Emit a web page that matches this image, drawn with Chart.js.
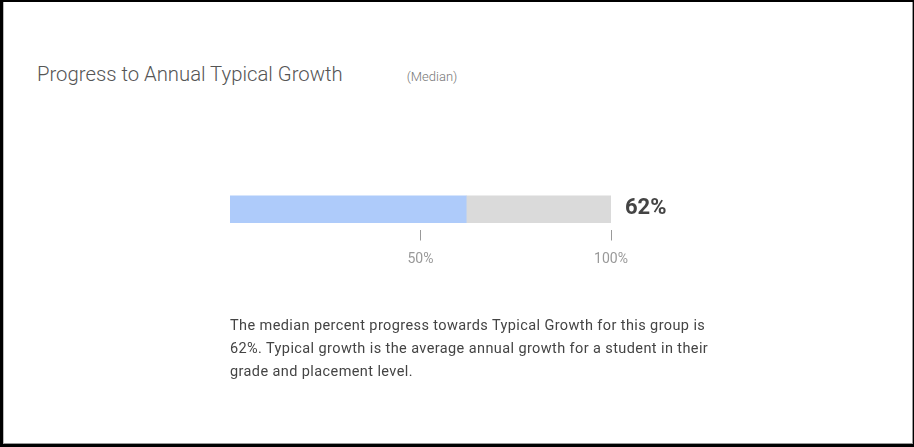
<!DOCTYPE html>
<html>
<head>
<meta charset="utf-8">
<script src="https://cdn.jsdelivr.net/npm/chart.js@4.4.0/dist/chart.umd.min.js"></script>
<style>
    html, body { margin: 0; padding: 0; background: #fff; }
    #marco {
        position: absolute; left: 0; top: 0; width: 914px; height: 447px;
        box-sizing: border-box;
        border-style: solid; border-color: #000;
        border-width: 2px 1px 3px 3px;
    }
    #interior {
        position: absolute; left: 0; top: 0; right: 0; bottom: 0;
        border-left: 1px solid #bbb; border-right: 1px solid #999; border-bottom: 1px solid #999;
    }
    #titulo {
        position: absolute; left: 37px; top: 62px;
        font-family: Roboto, sans-serif; font-size: 20.3px; font-weight: 300; color: #555;
        white-space: nowrap;
    }
    #titulo small { font-size: 13px; color: #777; margin-left: 64px; }
    #texto {
        position: absolute; left: 230px; top: 314px; width: 496px;
        font-family: Roboto, sans-serif; font-size: 14.5px; line-height: 23px; color: #444;
        letter-spacing: 0.4px;
    }
    #lienzo { position: absolute; left: 0; top: 0; }
</style>
</head>
<body>
<div id="marco"><div id="interior"></div></div>
<div id="titulo">Progress to Annual Typical Growth<small>(Median)</small></div>
<canvas id="lienzo" width="914" height="447"></canvas>
<div id="texto"></div>
<script>
// datos del grafico
const categorias = ['Median'];
const progreso = [62];
const restante = [38];
const marcasEje = [50, 100];
const textoResumen = 'The median percent progress towards Typical Growth for this group is 62%. Typical growth is the average annual growth for a student in their grade and placement level.';

document.getElementById('texto').textContent = textoResumen;

// escribe el porcentaje a la derecha de la barra
const etiquetaValor = {
    id: 'etiquetaValor',
    afterDatasetsDraw(chart) {
        const ctx = chart.ctx;
        const escalaX = chart.scales.x;
        const barra = chart.getDatasetMeta(0).data[0];
        ctx.save();
        ctx.font = 'bold 22px Roboto, sans-serif';
        ctx.fillStyle = '#444';
        ctx.textAlign = 'left';
        ctx.textBaseline = 'middle';
        ctx.fillText(progreso[0] + '%', escalaX.getPixelForValue(100) + 14, barra.y - 1);
        ctx.restore();
    }
};

const ctx = document.getElementById('lienzo').getContext('2d');

const miGrafico = new Chart(ctx, {
    type: 'bar',
    data: {
        labels: categorias,
        datasets: [{
            data: progreso,
            backgroundColor: '#aecbfa',
            barThickness: 27
        }, {
            data: restante,
            backgroundColor: '#dadada',
            barThickness: 27
        }]
    },
    options: {
        indexAxis: 'y',
        responsive: false,
        animation: false,
        layout: {
            padding: { left: 230, right: 303, top: 189, bottom: 177 }
        },
        plugins: {
            legend: { display: false },
            tooltip: { enabled: false }
        },
        scales: {
            x: {
                stacked: true,
                min: 0,
                max: 100,
                afterBuildTicks: function(eje) {
                    eje.ticks = marcasEje.map(v => ({ value: v }));
                },
                border: { display: false },
                grid: {
                    drawOnChartArea: false,
                    drawTicks: true,
                    tickLength: 11,
                    tickColor: '#999',
                    lineWidth: 1
                },
                ticks: {
                    padding: 11,
                    color: '#999',
                    font: { family: 'Roboto, sans-serif', size: 14 },
                    maxRotation: 0,
                    callback: v => v + '%'
                }
            },
            y: {
                stacked: true,
                display: false
            }
        }
    },
    plugins: [etiquetaValor]
});
</script>
</body>
</html>
